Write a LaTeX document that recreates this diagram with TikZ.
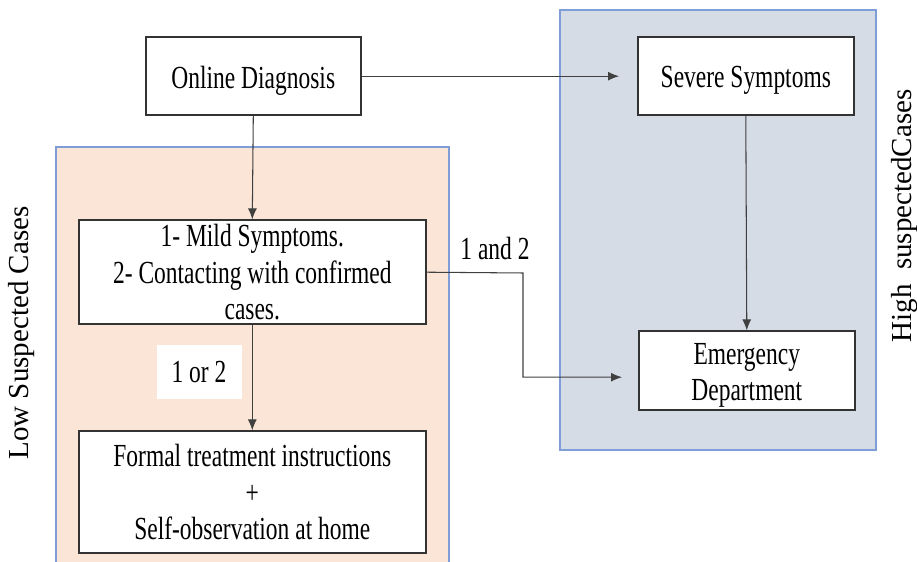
\documentclass[tikz,border=0pt]{standalone}
\usepackage{fontspec}
\setmainfont{Liberation Serif}[FakeStretch=0.73]
\newfontfamily\sidefont{Liberation Serif}
\usepackage{tikz}
\usetikzlibrary{positioning}
\usetikzlibrary{arrows.meta}

\definecolor{lowfill}{HTML}{FBE5D6}
\definecolor{highfill}{HTML}{D6DCE5}
\definecolor{zoneline}{HTML}{7F9ED8}
\definecolor{boxline}{HTML}{333333}

% lowers a line of text inside its box without changing the box size
\newcommand{\lowline}[1]{\raisebox{-0.09cm}[\height][\depth]{#1}}

\tikzset{
  flowbox/.style={rectangle, draw=boxline, line width=0.9pt, fill=white, anchor=south west, align=center, inner sep=0pt, font=\fontsize{18.3}{20.8}\selectfont},
  zone/.style={draw=zoneline, line width=0.6pt},
  flow/.style={draw=black!75, line width=0.6pt, -{Latex[length=2.2mm,width=1.8mm]}},
  cond/.style={fill=white, inner sep=0pt, font=\fontsize{18.3}{20.8}\selectfont},
  side/.style={rotate=90, font=\sidefont\fontsize{16.5}{19}\selectfont}
}

\begin{document}
\begin{tikzpicture}

\useasboundingbox (0,0) rectangle (18.34,11.24);
%\draw[step=1cm, gray, very thin, dotted] (0,0) grid (18,11);

% the two groups of cases
\draw[zone, fill=lowfill] (1.12,-0.2) rectangle (8.98,8.3);
\draw[zone, fill=highfill] (11.2,2.24) rectangle (17.52,11.04);
\node at (0.44,4.58) [side] (lowlabel) {Low Suspected Cases};
\node at (18.1,6.92) [side] (highlabel) {High~~suspectedCases};

\node at (2.9,8.92) [flowbox, minimum width=4.3cm, minimum height=1.56cm] (online) {\lowline{Online Diagnosis}};
\node at (12.74,8.92) [flowbox, minimum width=4.32cm, minimum height=1.56cm] (severe) {\lowline{Severe Symptoms}};
\node at (1.56,4.74) [flowbox, minimum width=6.94cm, minimum height=2.08cm] (mild) {1- Mild Symptoms.\\ 2- Contacting with confirmed\\ cases.};
\node at (1.56,0.16) [flowbox, minimum width=6.94cm, minimum height=2.44cm] (formal) {Formal treatment instructions\\ +\\ Self-observation at home};
\node at (12.76,3.02) [flowbox, minimum width=4.32cm, minimum height=1.58cm] (emerg) {\lowline{Emergency}\\ \lowline{Department}};

\draw[flow, shorten >=0.36cm] (online.east) -- (severe.west);
\draw[flow] (online.south) -- (mild.north);
\draw[flow] (mild.south) -- (formal.north);
\draw[flow] (severe.south) -- (emerg.north);

\coordinate (bend) at (10.46,5.78);
\draw[flow, shorten >=0.32cm] (mild.east) -- (bend) |- ([yshift=-0.13cm]emerg.west);

\node at (9.9,6.26) [cond, minimum width=1.8cm, minimum height=0.62cm] (both) {1 and 2};
\node at (3.98,3.8) [cond, minimum width=1.7cm, minimum height=1.08cm] (either) {1 or 2};

\end{tikzpicture}
\end{document}
